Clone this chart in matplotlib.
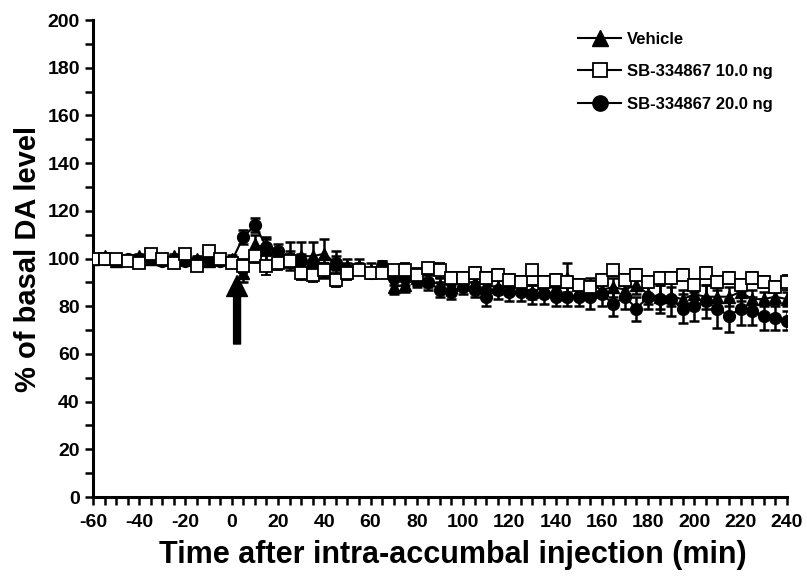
import matplotlib
matplotlib.use("Agg")
import matplotlib.pyplot as plt
from matplotlib.lines import Line2D
import numpy as np

plt.rcParams['font.family'] = ['Liberation Sans', 'DejaVu Sans']
plt.rcParams['font.weight'] = 'bold'
plt.rcParams['axes.unicode_minus'] = False

# sampling times (min), every 5 min
time = np.arange(-60, 245, 5)

# % of basal DA, mean values
vehicle = [100, 101, 99, 100, 101, 100, 100, 101, 100, 100, 99, 100, 100,
           94, 106, 104, 100, 101, 101, 101, 102, 98, 97, 97, 95, 96, 88, 89, 92, 91,
           89, 89, 90, 90, 89, 88, 88, 88, 86, 88, 88, 92, 87, 89, 87, 88, 87, 89,
           85, 84, 84, 83, 85, 84, 84, 84, 86, 83, 83, 84, 83]
sb10 = [100, 100, 100, 99, 98, 102, 100, 98, 102, 97, 103, 100, 98,
        97, 101, 97, 98, 99, 94, 93, 95, 91, 94, 95, 94, 94, 95, 95, 93, 96,
        95, 92, 92, 94, 92, 93, 91, 90, 95, 90, 91, 90, 89, 88, 91, 95, 91, 93,
        90, 92, 92, 93, 89, 94, 90, 92, 89, 92, 90, 88, 90]
sb20 = [100, 100, 99, 100, 100, 100, 99, 100, 99, 99, 100, 99, 99,
        109, 114, 105, 103, 100, 99, 97, 95, 98, 95, 96, 94, 97, 92, 92, 91, 90,
        87, 86, 88, 87, 84, 87, 86, 86, 85, 85, 84, 84, 84, 84, 85, 81, 84, 79,
        84, 83, 83, 79, 80, 82, 79, 76, 79, 78, 76, 75, 74]

# SEM
vehicle_err = [1.5, 1.5, 1, 1.5, 1, 1.5, 1, 1, 1.5, 1, 1.5, 1.5, 1.5,
               4, 4, 5, 4, 6, 6, 6, 6, 5, 3, 3, 3, 3, 3, 3, 3, 3,
               3, 3, 3, 3, 3, 3, 3, 3, 3, 3, 4, 6, 3, 3, 3, 4, 4, 4,
               4, 5, 4, 4, 4, 5, 4, 4, 4, 4, 3, 3, 3]
sb10_err = [1.5, 1.5, 1.5, 1.5, 2, 2, 1.5, 2, 2, 2, 2, 1.5, 1.5,
            3, 3, 4, 3, 3, 3, 3, 3, 3, 3, 2, 2, 2, 2, 3, 3, 2,
            3, 2.5, 2.5, 2.5, 2.5, 2.5, 2.5, 2.5, 2.5, 2.5, 2.5, 2.5, 2.5, 2.5, 2.5, 2.5, 2.5, 2.5,
            2.5, 2.5, 2.5, 2.5, 2.5, 2.5, 2.5, 2.5, 2.5, 2.5, 2.5, 2.5, 3]
sb20_err = [1.5, 1.5, 1.5, 1.5, 1.5, 1.5, 1.5, 1.5, 1.5, 1.5, 1.5, 1.5, 1.5,
            3, 3, 3, 3, 3, 3, 3, 3, 3, 3, 2, 2, 2, 3, 3, 3, 3,
            3, 3, 3, 3, 4, 4, 4, 4, 4, 4, 4, 4, 4, 5, 5, 5, 5, 5,
            5, 6, 7, 6, 6, 7, 8, 7, 7, 6, 6, 5, 4]

labels = ['Vehicle', 'SB-334867 10.0 ng', 'SB-334867 20.0 ng']

fig = plt.figure(figsize=(8.07, 5.83), dpi=100)
ax = fig.add_axes([0.1152, 0.1475, 0.8598, 0.818])

common = dict(color='black', linewidth=1.5, elinewidth=1.8, capsize=3.5, capthick=1.8)
ax.errorbar(time, vehicle, yerr=vehicle_err, marker='^', markersize=8.5,
            markerfacecolor='black', markeredgecolor='black', zorder=3, **common)
ax.errorbar(time, sb20, yerr=sb20_err, marker='o', markersize=8.5,
            markerfacecolor='black', markeredgecolor='black', zorder=4, **common)
ax.errorbar(time, sb10, yerr=sb10_err, marker='s', markersize=8,
            markerfacecolor='white', markeredgecolor='black', markeredgewidth=1.3,
            zorder=5, **common)

# injection arrow
ax.annotate('', xy=(2.3, 94), xytext=(2.3, 63),
            arrowprops=dict(arrowstyle='simple,head_length=1.5,head_width=1.5,tail_width=0.5',
                            color='black'))

ax.set_xlim(-60, 240)
ax.set_ylim(0, 200)
ax.set_xticks(np.arange(-60, 241, 20))
ax.set_xticks(np.arange(-60, 241, 5), minor=True)
ax.set_yticks(np.arange(0, 201, 20))
ax.set_yticks(np.arange(0, 201, 10), minor=True)
ax.tick_params(which='both', direction='out', width=1.8, length=6, labelsize=14)
ax.tick_params(axis='x', pad=6)

for s in ['top', 'right']:
    ax.spines[s].set_visible(False)
for s in ['left', 'bottom']:
    ax.spines[s].set_linewidth(2.2)

ax.set_xlabel('Time after intra-accumbal injection (min)', fontsize=22, fontweight='bold')
ax.xaxis.set_label_coords(0.519, -0.091)
ax.set_ylabel('% of basal DA level', fontsize=21, fontweight='bold', labelpad=4)

# legend entries drawn without error bars
handles = [
    Line2D([], [], color='black', lw=1.5, marker='^', markersize=11, markerfacecolor='black'),
    Line2D([], [], color='black', lw=1.5, marker='s', markersize=10,
           markerfacecolor='white', markeredgewidth=1.3),
    Line2D([], [], color='black', lw=1.5, marker='o', markersize=11, markerfacecolor='black'),
]
ax.legend(handles, labels, loc='upper left', bbox_to_anchor=(0.706, 0.96),
          bbox_transform=fig.transFigure, frameon=False, fontsize=12,
          handlelength=2.6, labelspacing=1.05, handletextpad=0.35, borderpad=0)

fig.savefig('out.png', dpi=100)
